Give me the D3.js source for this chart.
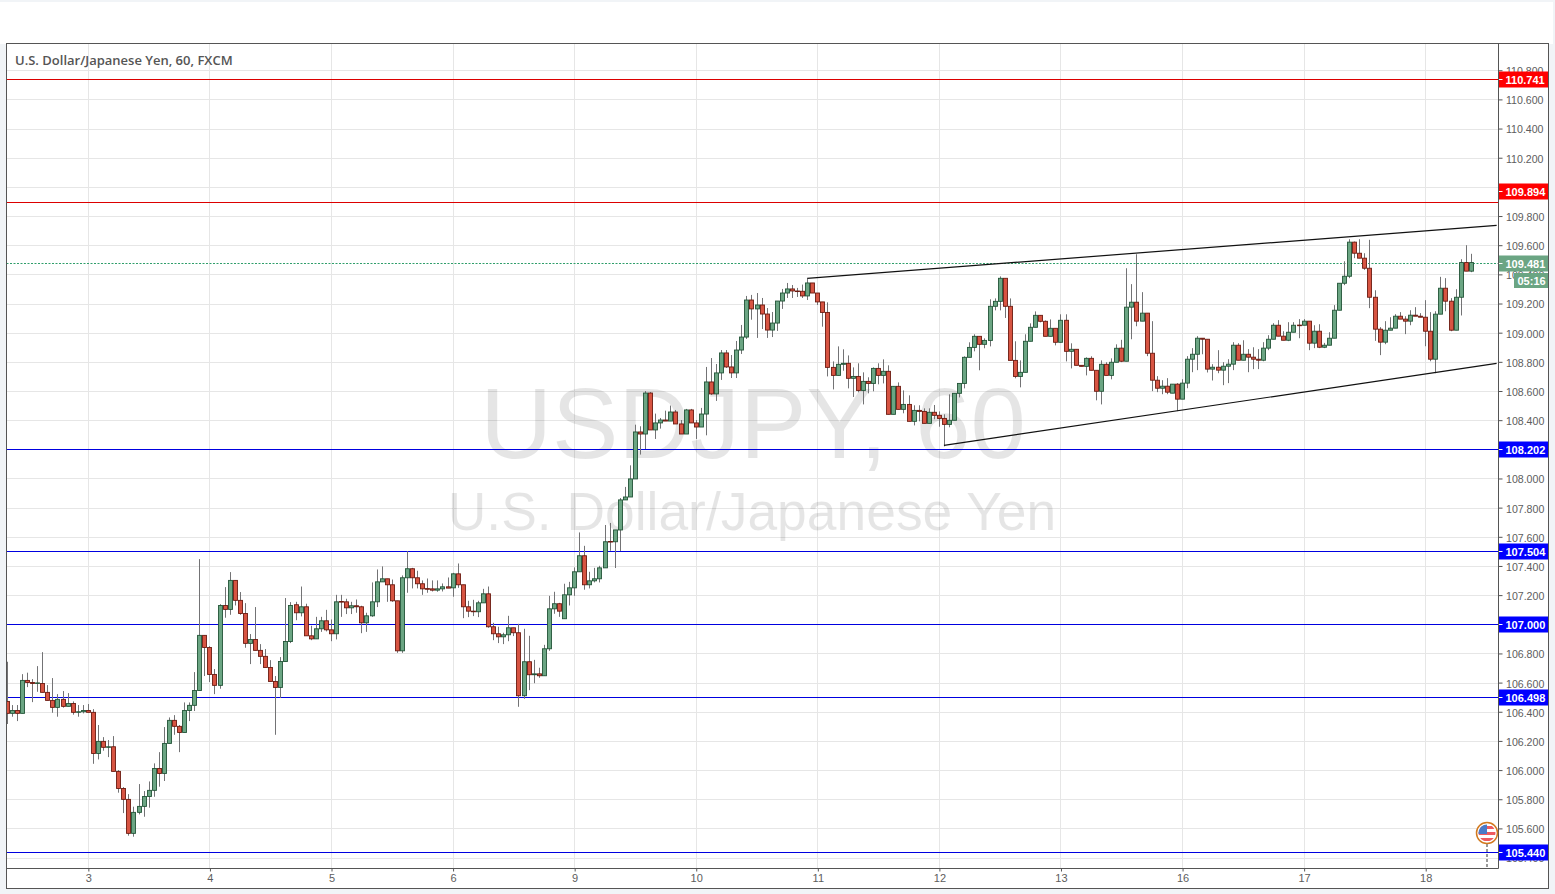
<!DOCTYPE html>
<html>
<head>
<meta charset="utf-8">
<title>USDJPY 60</title>
<script src="https://cdn.jsdelivr.net/npm/d3@7"></script>
<style>
html, body { margin: 0; padding: 0; overflow: hidden; background: #f1f4f7; }
svg { display: block; }
text { font-family: "Liberation Sans", Arial, sans-serif; }
</style>
</head>
<body>
<script>
// hourly candles, oldest first
const opens = [
106.471,106.389,106.409,106.389,106.615,106.601,106.594,106.594,106.533,106.478,
106.43,106.485,106.437,106.457,106.396,106.4,106.409,106.396,106.114,106.197,
106.156,106.16,105.991,105.874,105.799,105.566,105.71,105.751,105.819,105.861,
106.011,105.977,106.183,106.341,106.3,106.258,106.409,106.444,106.546,106.924,
106.841,106.656,106.581,107.129,107.102,107.301,107.164,107.074,106.869,106.896,
106.821,106.78,106.704,106.608,106.567,106.745,106.882,107.134,107.079,107.12,
106.921,106.9,106.969,107.024,106.962,106.935,107.156,107.154,107.113,107.127,
107.12,107.01,107.058,107.154,107.291,107.312,107.271,107.161,106.818,107.319,
107.381,107.319,107.278,107.245,107.243,107.234,107.243,107.257,107.25,107.346,
107.271,107.12,107.09,107.086,107.147,107.209,106.983,106.935,106.914,106.928,
106.976,106.942,106.51,106.743,106.654,106.66,106.647,106.832,107.106,107.141,
107.038,107.202,107.25,107.36,107.47,107.271,107.298,107.312,107.387,107.568,
107.566,107.647,107.853,107.873,107.997,108.319,108.305,108.586,108.333,108.381,
108.401,108.394,108.456,108.374,108.305,108.47,108.381,108.353,108.442,108.662,
108.58,108.724,108.861,108.765,108.724,108.881,108.97,109.224,109.163,109.19,
109.128,109.018,109.066,109.217,109.272,109.3,109.286,109.284,109.252,109.341,
109.272,109.211,109.139,108.762,108.707,108.783,108.79,108.687,108.70,108.604,
108.666,108.652,108.755,108.707,108.735,108.44,108.632,108.474,108.508,108.392,
108.467,108.46,108.378,108.454,108.433,108.412,108.371,108.399,108.584,108.652,
108.831,108.899,108.975,108.92,108.947,109.181,109.215,109.373,109.181,108.81,
108.70,108.728,108.941,109.037,109.119,109.078,108.975,109.03,108.934,109.085,
108.872,108.886,108.776,108.769,108.824,108.742,108.598,108.783,108.707,108.797,
108.894,108.804,109.175,109.209,109.079,109.134,108.859,108.674,108.619,108.633,
108.585,108.647,108.544,108.654,108.818,108.852,108.962,108.955,108.75,108.763,
108.743,108.77,108.784,108.914,108.811,108.852,108.832,108.818,108.811,108.894,
108.955,109.051,108.976,108.948,109.003,109.052,109.051,109.079,108.928,109.01,
108.90,108.914,108.962,109.154,109.339,109.387,109.621,109.545,109.511,109.442,
109.243,109.024,108.935,109.017,109.031,109.113,109.093,109.079,109.12,109.113,
109.106,109.01,108.818,109.127,109.305,109.216,109.017,109.243,109.481,109.422
];
const highs = [
106.743,106.446,106.446,106.658,106.668,106.624,106.713,106.809,106.583,106.631,
106.521,106.542,106.528,106.471,106.446,106.446,106.453,106.418,106.309,106.226,
106.206,106.233,106.0,105.883,105.835,105.749,105.904,105.856,105.922,106.046,
106.123,106.295,106.361,106.377,106.309,106.464,106.464,106.672,107.447,106.924,
106.85,106.693,107.138,107.255,107.358,107.301,107.221,107.145,106.933,107.118,
106.864,106.83,106.754,106.645,106.775,107.18,107.152,107.154,107.259,107.141,
106.99,107.051,107.051,107.099,107.033,107.202,107.202,107.175,107.154,107.17,
107.127,107.079,107.287,107.376,107.397,107.312,107.307,107.161,107.335,107.502,
107.387,107.367,107.301,107.314,107.301,107.301,107.28,107.321,107.353,107.417,
107.271,107.161,107.168,107.161,107.243,107.259,107.01,106.983,106.942,107.058,
106.976,107.003,106.969,106.921,106.756,106.702,106.859,107.195,107.223,107.147,
107.278,107.291,107.39,107.63,107.538,107.36,107.387,107.401,107.681,107.695,
107.647,107.866,107.942,108.09,108.369,108.358,108.6,108.593,108.445,108.415,
108.465,108.5,108.47,108.401,108.477,108.477,108.401,108.484,108.765,108.826,
108.785,108.881,108.881,108.847,108.943,109.053,109.252,109.259,109.272,109.238,
109.169,109.142,109.217,109.3,109.341,109.327,109.307,109.33,109.368,109.341,
109.272,109.211,109.208,108.803,108.906,108.886,108.844,108.762,108.79,108.728,
108.694,108.762,108.79,108.817,108.776,108.632,108.659,108.604,108.57,108.502,
108.502,108.481,108.481,108.504,108.46,108.44,108.577,108.584,108.652,108.838,
108.934,108.989,108.975,108.961,109.229,109.235,109.386,109.373,109.235,108.941,
108.81,108.989,109.064,109.146,109.119,109.084,109.091,109.03,109.126,109.126,
108.927,108.886,108.776,108.831,108.838,108.742,108.81,108.797,108.824,108.92,
108.951,109.442,109.333,109.538,109.278,109.134,109.079,108.702,108.674,108.688,
108.647,108.654,108.681,108.839,108.894,108.976,108.962,108.955,108.784,108.88,
108.798,108.818,108.935,108.928,108.948,108.887,108.9,108.887,108.935,108.983,
109.065,109.086,109.01,109.072,109.072,109.093,109.093,109.079,109.051,109.058,
108.93,109.003,109.189,109.339,109.49,109.641,109.625,109.641,109.545,109.637,
109.291,109.038,109.079,109.106,109.127,109.141,109.113,109.154,109.175,109.134,
109.223,109.141,109.147,109.383,109.374,109.237,109.298,109.504,109.6,109.541
];
const lows = [
106.316,106.366,106.336,106.389,106.569,106.466,106.537,106.533,106.478,106.393,
106.366,106.428,106.437,106.38,106.366,106.389,106.396,106.043,106.073,106.133,
106.089,105.991,105.845,105.705,105.55,105.543,105.696,105.68,105.742,105.817,
105.886,105.925,106.183,106.242,106.123,106.258,106.336,106.405,106.546,106.645,
106.604,106.521,106.558,107.045,107.065,107.129,107.065,106.839,106.727,106.821,
106.727,106.704,106.608,106.242,106.494,106.745,106.871,107.028,107.054,106.921,
106.891,106.9,106.948,106.951,106.884,106.896,107.051,107.07,107.07,107.079,
106.939,106.948,107.051,107.118,107.291,107.154,107.154,106.804,106.804,107.216,
107.246,107.246,107.202,107.216,107.225,107.223,107.225,107.248,107.189,107.25,
107.042,107.049,107.056,107.049,107.147,106.976,106.891,106.871,106.864,106.884,
106.919,106.434,106.489,106.548,106.596,106.633,106.647,106.818,107.072,107.051,
107.038,107.129,107.195,107.36,107.237,107.246,107.287,107.287,107.387,107.504,
107.386,107.503,107.853,107.873,107.997,108.164,108.202,108.333,108.271,108.342,
108.394,108.394,108.374,108.305,108.305,108.381,108.271,108.353,108.296,108.573,
108.532,108.676,108.758,108.689,108.689,108.854,108.957,109.089,108.964,109.025,
108.964,108.97,109.012,109.163,109.238,109.238,109.245,109.238,109.224,109.272,
109.19,109.041,108.70,108.611,108.707,108.739,108.618,108.559,108.591,108.508,
108.584,108.598,108.646,108.652,108.44,108.44,108.474,108.447,108.392,108.364,
108.392,108.378,108.378,108.406,108.355,108.22,108.351,108.399,108.556,108.618,
108.831,108.872,108.742,108.893,108.906,109.153,109.153,109.101,108.81,108.687,
108.625,108.728,108.941,109.037,109.071,108.975,108.975,108.913,108.934,108.803,
108.755,108.776,108.769,108.707,108.742,108.536,108.508,108.707,108.68,108.797,
108.798,108.804,108.955,109.044,109.079,108.839,108.599,108.592,108.578,108.578,
108.585,108.462,108.544,108.619,108.729,108.743,108.852,108.727,108.672,108.722,
108.64,108.654,108.743,108.811,108.811,108.729,108.75,108.75,108.804,108.88,
108.955,108.976,108.948,108.942,109.003,108.962,109.051,108.88,108.894,108.894,
108.894,108.914,108.962,109.154,109.326,109.374,109.511,109.511,109.431,109.168,
108.944,108.846,108.921,109.017,109.031,109.093,108.99,109.051,109.113,109.106,
108.907,108.804,108.722,109.127,109.147,109.01,109.017,109.118,109.422,109.415
];
const closes = [
106.389,106.409,106.389,106.615,106.601,106.594,106.598,106.533,106.478,106.43,
106.485,106.437,106.457,106.396,106.4,106.409,106.396,106.114,106.197,106.156,
106.16,105.991,105.874,105.799,105.566,105.71,105.751,105.819,105.861,106.011,
105.977,106.183,106.341,106.3,106.258,106.409,106.444,106.546,106.924,106.841,
106.656,106.581,107.129,107.102,107.301,107.164,107.074,106.869,106.896,106.821,
106.78,106.704,106.608,106.567,106.745,106.882,107.129,107.079,107.12,106.921,
106.9,106.969,107.024,106.962,106.935,107.154,107.154,107.113,107.127,107.12,
107.01,107.058,107.154,107.291,107.312,107.271,107.161,106.818,107.319,107.381,
107.319,107.278,107.243,107.24,107.234,107.243,107.257,107.248,107.346,107.271,
107.12,107.09,107.086,107.147,107.209,106.983,106.935,106.914,106.928,106.976,
106.942,106.51,106.743,106.654,106.66,106.647,106.832,107.106,107.141,107.09,
107.202,107.25,107.36,107.47,107.271,107.298,107.312,107.387,107.566,107.566,
107.647,107.853,107.873,107.997,108.319,108.305,108.586,108.333,108.381,108.401,
108.394,108.456,108.374,108.305,108.47,108.381,108.353,108.442,108.662,108.58,
108.724,108.861,108.765,108.724,108.881,108.97,109.224,109.163,109.19,109.128,
109.018,109.066,109.217,109.272,109.3,109.286,109.284,109.252,109.341,109.272,
109.211,109.139,108.762,108.707,108.783,108.79,108.687,108.70,108.604,108.666,
108.652,108.755,108.707,108.735,108.44,108.632,108.474,108.508,108.392,108.467,
108.46,108.378,108.454,108.433,108.412,108.371,108.399,108.584,108.652,108.831,
108.899,108.975,108.92,108.947,109.181,109.215,109.373,109.181,108.81,108.70,
108.728,108.941,109.037,109.119,109.078,108.975,109.03,108.934,109.085,108.872,
108.886,108.776,108.769,108.824,108.742,108.598,108.783,108.707,108.797,108.893,
108.804,109.175,109.209,109.079,109.134,108.859,108.674,108.619,108.633,108.592,
108.647,108.544,108.654,108.818,108.852,108.962,108.955,108.75,108.763,108.743,
108.77,108.784,108.914,108.811,108.852,108.832,108.818,108.811,108.894,108.955,
109.051,108.976,108.948,109.003,109.051,109.05,109.079,108.928,109.01,108.90,
108.914,108.962,109.154,109.339,109.387,109.621,109.545,109.511,109.442,109.243,
109.024,108.935,109.017,109.031,109.113,109.093,109.079,109.12,109.113,109.106,
109.01,108.818,109.127,109.305,109.216,109.017,109.243,109.481,109.422,109.481
];

// day labels on the time axis and the candle they sit under
const dayLabels = ['3', '4', '5', '6', '9', '10', '11', '12', '13', '16', '17', '18'];
const dayIndexes = [16, 40, 64, 88, 112, 136, 160, 184, 208, 232, 256, 280];
const priceTicks = [105.4, 105.6, 105.8, 106.0, 106.2, 106.4, 106.6, 106.8, 107.0, 107.2, 107.4, 107.6, 107.8,
    108.0, 108.2, 108.4, 108.6, 108.8, 109.0, 109.2, 109.4, 109.6, 109.8, 110.0, 110.2, 110.4, 110.6, 110.8];

// horizontal levels
const resistanceLevels = [110.741, 109.894];
const supportLevels = [108.202, 107.504, 107.0, 106.498, 105.44];
const lastPrice = 109.481;
const countdown = '05:16';

// channel lines as [candle index, price]
const trendUpper = [[157.9, 109.372], [294, 109.736]];
const trendLower = [[184.9, 108.227], [294, 108.789]];
const flagIndex = 292.1;

const width = 1555;
const height = 894;
const plot = { left: 6.5, right: 1498.5, top: 43.5, bottom: 868.5, outerRight: 1548.5, outerBottom: 888.5 };

const candles = opens.map((o, i) => ({ i: i, o: o, h: highs[i], l: lows[i], c: closes[i] }));

const x = d3.scaleLinear().domain([0, 289]).range([7.3, 1471.3]);
const y = d3.scaleLinear().domain([105.6, 110.6]).range([828.4, 99.4]);

// snap to the pixel grid so thin lines stay sharp
const sx = v => Math.floor(x(v)) + 0.5;
const sy = v => Math.round(y(v)) + 0.5;

const svg = d3.select('body').append('svg')
    .attr('width', width)
    .attr('height', height);

svg.append('defs').append('clipPath').attr('id', 'plotClip').append('rect')
    .attr('x', plot.left)
    .attr('y', plot.top)
    .attr('width', plot.right - plot.left)
    .attr('height', plot.bottom - plot.top);

// page panels
svg.append('rect').attr('x', 0).attr('y', 2).attr('width', 1553).attr('height', 42).attr('fill', '#fff');
svg.append('rect').attr('x', plot.left).attr('y', 43).attr('width', plot.outerRight - plot.left)
    .attr('height', plot.outerBottom - 43).attr('fill', '#fff');

const chart = svg.append('g').attr('clip-path', 'url(#plotClip)');

// grid
chart.selectAll('.hgrid')
    .data(priceTicks)
    .enter().append('line')
    .attr('class', 'hgrid')
    .attr('x1', plot.left)
    .attr('x2', plot.right)
    .attr('y1', d => sy(d))
    .attr('y2', d => sy(d))
    .attr('stroke', '#e6e6e6');

chart.selectAll('.vgrid')
    .data(dayIndexes)
    .enter().append('line')
    .attr('class', 'vgrid')
    .attr('x1', d => sx(d))
    .attr('x2', d => sx(d))
    .attr('y1', plot.top)
    .attr('y2', plot.bottom)
    .attr('stroke', '#e6e6e6');

// watermark
chart.append('text')
    .attr('x', 753)
    .attr('y', 458)
    .attr('text-anchor', 'middle')
    .attr('font-size', 99.5)
    .attr('fill', '#000')
    .attr('fill-opacity', 0.1)
    .text('USDJPY, 60');

chart.append('text')
    .attr('x', 752)
    .attr('y', 530)
    .attr('text-anchor', 'middle')
    .attr('font-size', 53.4)
    .attr('fill', '#000')
    .attr('fill-opacity', 0.1)
    .text('U.S. Dollar/Japanese Yen');

// level lines
const drawLevels = (levels, color) => {
    chart.selectAll(null)
        .data(levels)
        .enter().append('line')
        .attr('x1', plot.left)
        .attr('x2', plot.right)
        .attr('y1', d => sy(d))
        .attr('y2', d => sy(d))
        .attr('stroke', color);
};
drawLevels(resistanceLevels, '#dc0000');
drawLevels(supportLevels, '#0000e0');

chart.append('line')
    .attr('x1', plot.left)
    .attr('x2', plot.right)
    .attr('y1', sy(lastPrice))
    .attr('y2', sy(lastPrice))
    .attr('stroke', '#2f9e6a')
    .attr('stroke-dasharray', '2,1.5');

// candles
const isUp = d => d.c >= d.o;

chart.selectAll('.wick')
    .data(candles)
    .enter().append('line')
    .attr('class', 'wick')
    .attr('x1', d => sx(d.i))
    .attr('x2', d => sx(d.i))
    .attr('y1', d => y(d.h))
    .attr('y2', d => y(d.l))
    .attr('stroke', '#737375')
    .attr('stroke-width', 1);

chart.selectAll('.body')
    .data(candles)
    .enter().append('rect')
    .attr('class', 'body')
    .attr('x', d => sx(d.i) - 1.95)
    .attr('width', 3.9)
    .attr('y', d => y(Math.max(d.o, d.c)))
    .attr('height', d => Math.max(0.6, Math.abs(y(d.o) - y(d.c))))
    .attr('fill', d => isUp(d) ? '#6ba583' : '#d75442')
    .attr('stroke', d => isUp(d) ? '#225437' : '#6b1a10')
    .attr('stroke-width', 0.9);

// channel
const trendLine = d3.line().x(d => x(d[0])).y(d => y(d[1]));
[trendUpper, trendLower].forEach(t => {
    chart.append('path')
        .attr('d', trendLine(t))
        .attr('fill', 'none')
        .attr('stroke', '#111')
        .attr('stroke-width', 1.2);
});

// axes
const yAxis = d3.axisRight(y)
    .tickValues(priceTicks)
    .tickSize(4)
    .tickPadding(3.5)
    .tickFormat(d3.format('.3f'));

const yAxisG = svg.append('g')
    .attr('transform', 'translate(' + plot.right + ',0)')
    .call(yAxis);
yAxisG.select('.domain').remove();
yAxisG.selectAll('line').attr('stroke', '#555');
yAxisG.selectAll('text')
    .attr('font-size', 10.6)
    .attr('y', 1)
    .style('font-family', '"Liberation Sans", Arial, sans-serif')
    .attr('fill', '#5d5d5d');

const xAxis = d3.axisBottom(x)
    .tickValues(dayIndexes)
    .tickSize(3)
    .tickPadding(3)
    .tickFormat((d, i) => dayLabels[i]);

const xAxisG = svg.append('g')
    .attr('transform', 'translate(0,' + plot.bottom + ')')
    .call(xAxis);
xAxisG.select('.domain').remove();
xAxisG.selectAll('line').attr('stroke', '#555');
xAxisG.selectAll('text')
    .attr('font-size', 11)
    .style('font-family', '"Liberation Sans", Arial, sans-serif')
    .attr('fill', '#5d5d5d');

// frame
const frame = svg.append('g').attr('fill', 'none').attr('stroke', '#555');
frame.append('rect')
    .attr('x', plot.left)
    .attr('y', plot.top)
    .attr('width', plot.outerRight - plot.left)
    .attr('height', plot.outerBottom - plot.top);
frame.append('line').attr('x1', plot.left).attr('x2', plot.right).attr('y1', plot.bottom).attr('y2', plot.bottom);
frame.append('line').attr('x1', plot.right).attr('x2', plot.right).attr('y1', plot.top).attr('y2', plot.bottom);

// price labels, the 109.894 one sits pushed up off its line
const labelGroup = svg.append('g');
const priceLabel = (value, color, shift) => {
    const cy = sy(value) + (shift || 0);
    labelGroup.append('rect')
        .attr('x', plot.right + 0.5)
        .attr('y', cy - 8)
        .attr('width', plot.outerRight - plot.right - 1)
        .attr('height', 16)
        .attr('fill', color);
    labelGroup.append('line')
        .attr('x1', plot.right + 0.5)
        .attr('x2', plot.right + 4)
        .attr('y1', cy)
        .attr('y2', cy)
        .attr('stroke', '#fff');
    labelGroup.append('text')
        .attr('x', plot.right + 7)
        .attr('y', cy + 4)
        .attr('font-size', 11)
        .attr('font-weight', 'bold')
        .attr('fill', '#fff')
        .text(value.toFixed(3));
};
priceLabel(110.741, '#ff0000');
priceLabel(109.894, '#ff0000', -11);
supportLevels.forEach(v => priceLabel(v, '#0000ff'));
priceLabel(lastPrice, '#6ba583');

// bar countdown under the last price
labelGroup.append('rect')
    .attr('x', 1514)
    .attr('y', 273)
    .attr('width', 34)
    .attr('height', 15)
    .attr('fill', '#6ba583');
labelGroup.append('text')
    .attr('x', 1517.5)
    .attr('y', 284.5)
    .attr('font-size', 11)
    .attr('font-weight', 'bold')
    .attr('fill', '#fff')
    .text(countdown);

// title
svg.append('text')
    .attr('x', 15)
    .attr('y', 64.5)
    .attr('font-size', 13)
    .attr('font-weight', 600)
    .style('font-family', '"Open Sans", sans-serif')
    .attr('fill', '#555')
    .text('U.S. Dollar/Japanese Yen, 60, FXCM');

// US news flag at the bottom right
const flagX = x(flagIndex);
const flagY = 833;
svg.append('line')
    .attr('x1', flagX)
    .attr('x2', flagX)
    .attr('y1', flagY + 11)
    .attr('y2', plot.bottom)
    .attr('stroke', '#999')
    .attr('stroke-width', 2)
    .attr('stroke-dasharray', '3,2');

const flag = svg.append('g').attr('transform', 'translate(' + flagX + ',' + flagY + ')');
flag.append('clipPath').attr('id', 'flagClip').append('circle').attr('r', 8.5);
flag.append('circle').attr('r', 10.5).attr('fill', '#fff').attr('stroke', '#d2791e').attr('stroke-width', 1.5);
const stripes = flag.append('g').attr('clip-path', 'url(#flagClip)');
stripes.append('rect').attr('x', -9).attr('y', -7).attr('width', 18).attr('height', 3).attr('fill', '#ee5a5f');
stripes.append('rect').attr('x', -9).attr('y', -1).attr('width', 18).attr('height', 3).attr('fill', '#ee5a5f');
stripes.append('rect').attr('x', -9).attr('y', 5).attr('width', 18).attr('height', 3).attr('fill', '#ee5a5f');
stripes.append('rect').attr('x', -9).attr('y', -9).attr('width', 9).attr('height', 10).attr('fill', '#4a7bc8');
</script>
</body>
</html>
